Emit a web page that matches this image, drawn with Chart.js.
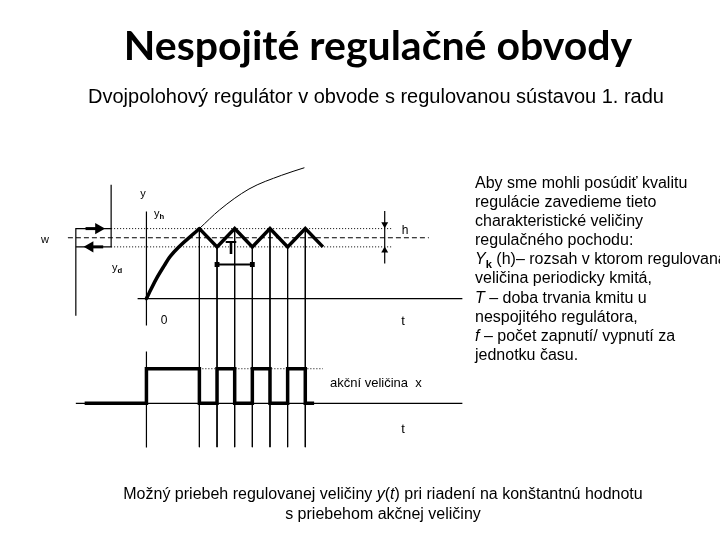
<!DOCTYPE html>
<html><head><meta charset="utf-8">
<script src="https://cdn.jsdelivr.net/npm/chart.js@4"></script>
<style>
html,body{margin:0;padding:0;background:#fff;}
#wrap{position:relative;width:720px;height:540px;overflow:hidden;font-family:"Liberation Sans",Arial,sans-serif;color:#000;}
#c{position:absolute;left:0;top:0;}
.t{position:absolute;white-space:nowrap;line-height:1;}
.c{transform:translate(-50%,-50%);}
#title{left:378px;top:44px;font-family:Lato,"Open Sans",sans-serif;font-weight:bold;font-size:41px;}
#sub{left:376px;top:96px;font-size:20px;}
#side{position:absolute;left:475px;top:173px;font-size:16px;line-height:19.1px;white-space:nowrap;}
#cap{position:absolute;left:383px;top:484px;transform:translateX(-50%);font-size:16px;line-height:20px;text-align:center;white-space:nowrap;}
sub{font-size:70%;vertical-align:-0.35em;line-height:0;}
.lab{font-size:11px;}
</style></head><body>
<div id="wrap">
<canvas id="c" width="720" height="540"></canvas>
<div id="title" class="t c">Nespojité regulačné obvody</div>
<div id="sub" class="t c">Dvojpolohový regulátor v obvode s regulovanou sústavou 1. radu</div>
<div id="side">Aby sme mohli posúdiť kvalitu<br>regulácie zavedieme tieto<br>charakteristické veličiny<br>regulačného pochodu:<br><i>Y</i><sub><b>k</b></sub> (h)– rozsah v ktorom regulovaná<br>veličina periodicky kmitá,<br><i>T</i> – doba trvania kmitu u<br>nespojitého regulátora,<br><i>f</i> – počet zapnutí/ vypnutí za<br>jednotku času.</div>
<div id="cap">Možný priebeh regulovanej veličiny <i>y</i>(<i>t</i>) pri riadení na konštantnú hodnotu<br>s priebehom akčnej veličiny</div>
<div class="t c lab" style="left:143px;top:193px;">y</div>
<div class="t c lab" style="left:159px;top:213px;">y<sub><b>h</b></sub></div>
<div class="t c lab" style="left:405px;top:230px;font-size:12px;">h</div>
<div class="t c lab" style="left:45px;top:239px;">w</div>
<div class="t c lab" style="left:117px;top:267px;">y<sub><b>d</b></sub></div>
<div class="t c lab" style="left:164px;top:320px;font-size:12px;">0</div>
<div class="t c lab" style="left:403px;top:320px;font-size:13px;">t</div>
<div class="t c" style="left:231px;top:248px;font-size:18px;font-weight:bold;">T</div>
<div class="t lab" style="left:330px;top:376px;font-size:13px;">akční veličina&nbsp; x</div>
<div class="t c lab" style="left:403px;top:428px;font-size:13px;">t</div>
</div>
<script>
// ---- data (time in switching half-periods, y in process units, x actuating 0/1) ----
const wValue = 10;
const yHigh = 11.5;
const yLow = 8.5;
// rising part of controlled variable y(t) (thick)
const riseT = [0, 0.16, 0.53, 0.99, 1.36, 3];
const riseY = [0, 0.96, 3.09, 5.33, 6.98, 11.5];
// oscillation between yh and yd
const oscT = [3, 4, 5, 6, 7, 8, 9, 10];
const oscY = [11.5, 8.5, 11.5, 8.5, 11.5, 8.5, 11.5, 8.5];
// open-loop continuation (thin)
const openT = [3, 4.14, 5.81, 7.66, 8.95];
const openY = [11.5, 14.56, 18.0, 20.26, 21.5];
// actuating variable x(t), stepped
const actT = [-3.5, 0, 3, 4, 5, 6, 7, 8, 9, 9.5];
const actX = [0, 1, 0, 1, 0, 1, 0, 1, 0, 0];
// switching instants with guide lines
const guideT = [3, 4, 5, 6, 7, 8, 9];
const guideY = [11.5, 8.5, 11.5, 8.5, 11.5, 8.5, 11.5];
const guideBottom = -24.4;
// axes / reference lines extents
const tAxisT = [-0.5, 17.9];
const yAxisY = [14.3, -4.4];
const wLineT = [-4.45, 16];
const bandT = [-2, 13.9];
const relayLeftT = -4, relayRightT = -2;
const relayTopY = 18.7, relayBottomY = -2.8;
const hMarkT = 13.5, hMarkY = [14.4, 5.76], hArrowY = [12.2, 7.9];
const periodT = [4, 6], periodY = 5.6;
const xAxisT = [-4, 17.9];
const xAxis0Y = [1.5, -1.28];
const xDotT = [3, 10];
const arrowTopT = [-3.45, -2.72], arrowBotT = [-2.45, -3.19];

const P = (xs, ys) => xs.map((x, i) => ({x, y: ys[i]}));
const K = '#000';
function line(data, w, extra) {
  return Object.assign({data, showLine: true, borderColor: K, backgroundColor: K, borderWidth: w,
    pointRadius: 0, tension: 0, yAxisID: 'y', spanGaps: false}, extra || {});
}
const guides = [];
guideT.forEach((t, i) => { guides.push({x: t, y: guideY[i]}, {x: t, y: guideBottom}, {x: t, y: null}); });

const datasets = [
  line(P(tAxisT, [0, 0]), 1.2),
  line(P([0, 0], yAxisY), 1.2),
  line(P(wLineT, [wValue, wValue]), 1.2, {borderDash: [5, 3]}),
  line(P(bandT, [yHigh, yHigh]), 1, {borderDash: [1, 2]}),
  line(P(bandT, [yLow, yLow]), 1, {borderDash: [1, 2]}),
  line(guides, 1),
  line(P([relayRightT, relayRightT, relayLeftT], [relayTopY, yLow, yLow]), 1.2),
  line(P([relayRightT, relayLeftT, relayLeftT], [yHigh, yHigh, relayBottomY]), 1.2),
  line(P(arrowTopT, [yHigh, yHigh]), 3, {pointRadius: [0, 3.5], pointStyle: 'triangle', rotation: 90}),
  line(P(arrowBotT, [yLow, yLow]), 3, {pointRadius: [0, 3.5], pointStyle: 'triangle', rotation: -90}),
  line(P([hMarkT, hMarkT], hMarkY), 1.2),
  line(P([hMarkT, hMarkT], hArrowY), 0, {showLine: false, pointRadius: 4, pointStyle: 'triangle', rotation: [180, 0]}),
  line(P(periodT, [periodY, periodY]), 2, {pointRadius: 2, pointStyle: 'rect'}),
  line(P(openT, openY), 1, {cubicInterpolationMode: 'monotone'}),
  line(P(riseT, riseY), 3.5, {cubicInterpolationMode: 'monotone', borderCapStyle: 'round'}),
  line(P(oscT, oscY), 3.5, {borderJoinStyle: 'miter'}),
  // bottom diagram
  line(P(xAxisT, [0, 0]), 1.2, {yAxisID: 'y2'}),
  line(P([0, 0], xAxis0Y), 1.2, {yAxisID: 'y2'}),
  line(P(xDotT, [1, 1]), 1, {yAxisID: 'y2', borderDash: [1, 2]}),
  line(P(actT, actX), 3.5, {yAxisID: 'y2', stepped: true, borderJoinStyle: 'miter'})
];

new Chart(document.getElementById('c'), {
  type: 'scatter',
  data: {datasets},
  options: {
    responsive: false, animation: false, devicePixelRatio: 1,
    layout: {padding: 0},
    plugins: {legend: {display: false}, tooltip: {enabled: false}, title: {display: false}},
    events: [],
    scales: {
      x: {type: 'linear', min: -7.9, max: 32.1, display: false},
      y: {type: 'linear', min: -38.5, max: 47.9, display: false},
      y2: {type: 'linear', min: -3.75, max: 11.46, display: false}
    }
  }
});
</script>
</body></html>
